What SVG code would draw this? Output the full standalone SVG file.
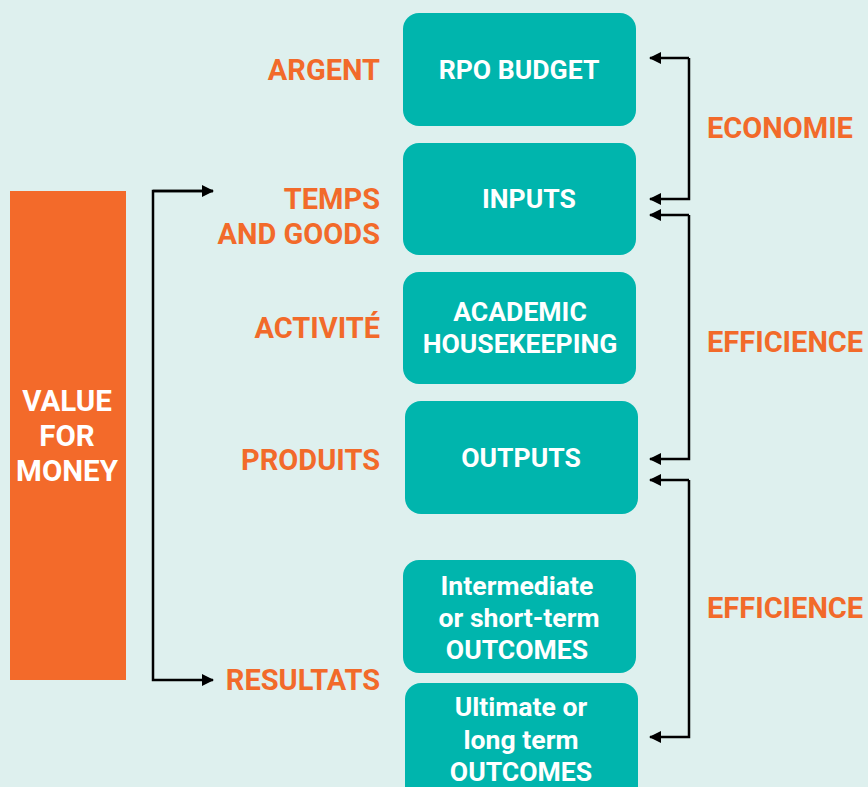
<svg xmlns="http://www.w3.org/2000/svg" width="868" height="787" viewBox="0 0 868 787">
<defs>
<style>
.box{fill:#00B5AD}
.bt{fill:#fff;font-family:Roboto,"Liberation Sans",sans-serif;font-weight:bold;font-size:26.6px;text-anchor:middle}
.vt{fill:#fff;font-family:Roboto,"Liberation Sans",sans-serif;font-weight:bold;font-size:29.5px;text-anchor:middle}
.lb{fill:#F26A2A;font-family:Roboto,"Liberation Sans",sans-serif;font-weight:bold;font-size:29px;text-anchor:end}
.rl{fill:#F26A2A;font-family:Roboto,"Liberation Sans",sans-serif;font-weight:bold;font-size:29px}
.ln{fill:none;stroke:#000;stroke-width:2.5}
</style>
<marker id="ah" viewBox="0 0 12 12" refX="11" refY="6" markerWidth="12" markerHeight="12" markerUnits="userSpaceOnUse" orient="auto">
<path d="M0,0 L12,6 L0,12 Z" fill="#000"/>
</marker>
</defs>
<rect width="868" height="787" fill="#DEF0EE"/>
<g id="vfm">
<rect x="10" y="191" width="116" height="489" fill="#F36A2A"/>
<text class="vt" x="67" y="411">VALUE</text>
<text class="vt" x="67" y="446">FOR</text>
<text class="vt" x="67" y="481">MONEY</text>
</g>
<g id="n-budget"><rect class="box" x="403" y="13" width="233" height="113" rx="16"/><text class="bt" x="519" y="79">RPO BUDGET</text></g>
<g id="n-inputs"><rect class="box" x="403" y="143" width="233" height="112" rx="16"/><text class="bt" x="529" y="208">INPUTS</text></g>
<g id="n-academic"><rect class="box" x="403" y="272" width="233" height="112" rx="16"/><text class="bt" x="520" y="321">ACADEMIC</text><text class="bt" x="520" y="353">HOUSEKEEPING</text></g>
<g id="n-outputs"><rect class="box" x="405" y="401" width="233" height="113" rx="16"/><text class="bt" x="521" y="467">OUTPUTS</text></g>
<g id="n-intermediate"><rect class="box" x="403" y="560" width="233" height="113" rx="16"/><text class="bt" x="517" y="595">Intermediate</text><text class="bt" x="519" y="627">or short-term</text><text class="bt" x="517" y="659">OUTCOMES</text></g>
<g id="n-ultimate"><rect class="box" x="405" y="683" width="233" height="120" rx="16"/><text class="bt" x="521" y="716">Ultimate or</text><text class="bt" x="521" y="749">long term</text><text class="bt" x="521" y="781">OUTCOMES</text></g>
<g id="labels">
<text class="lb" x="380" y="80">ARGENT</text>
<text class="lb" x="380" y="209">TEMPS</text>
<text class="lb" x="380" y="244">AND GOODS</text>
<text class="lb" x="380" y="338">ACTIVITÉ</text>
<text class="lb" x="380" y="470">PRODUITS</text>
<text class="lb" x="380" y="690">RESULTATS</text>
<text class="rl" x="707" y="138">ECONOMIE</text>
<text class="rl" x="707" y="352">EFFICIENCE</text>
<text class="rl" x="707" y="618">EFFICIENCE</text>
</g>
<g id="connectors">
<path class="ln" d="M213,191 H153 V680 H213" marker-end="url(#ah)"/>
<path class="ln" d="M153,191 H213" marker-end="url(#ah)"/>
<path class="ln" d="M689,58 V199 H650" marker-end="url(#ah)"/>
<path class="ln" d="M689,58 H650" marker-end="url(#ah)"/>
<path class="ln" d="M689,215 V459 H650" marker-end="url(#ah)"/>
<path class="ln" d="M689,215 H650" marker-end="url(#ah)"/>
<path class="ln" d="M689,480 V737 H650" marker-end="url(#ah)"/>
<path class="ln" d="M689,480 H650" marker-end="url(#ah)"/>
</g>
</svg>
